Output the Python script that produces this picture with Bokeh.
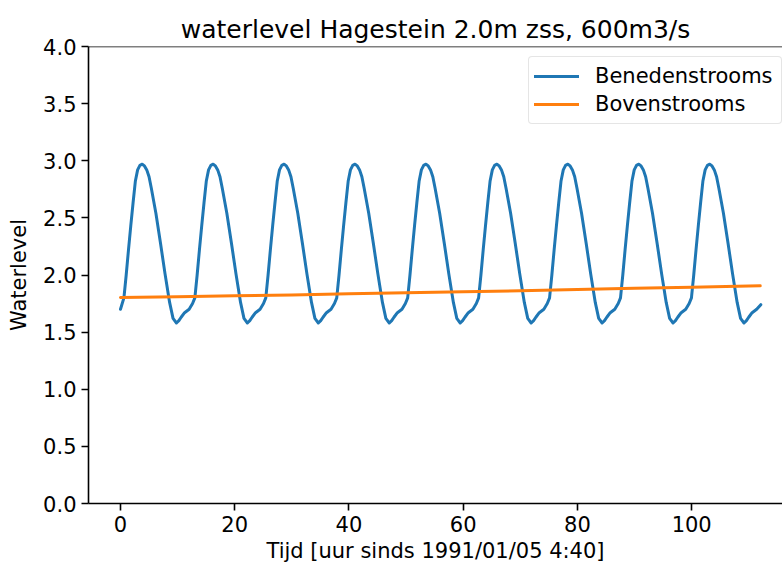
from bokeh.plotting import figure
from bokeh.models import (Range1d, FixedTicker, PrintfTickFormatter, Legend,
                          LegendItem, Span)
from bokeh.embed import file_html
from bokeh.resources import INLINE

# Water level downstream of the weir (tidal), hours since 1991/01/05 4:40
beneden_hours = [
    0.00, 0.60, 1.00, 1.40, 1.80, 2.20, 2.60, 3.00, 3.40, 3.80, 4.20, 4.60, 5.00, 5.40, 6.20, 7.00, 7.80, 8.60, 9.20, 9.80,
    10.22, 10.62, 11.22, 12.02, 12.62, 13.02, 13.42, 13.82, 14.22, 14.62, 15.02, 15.42, 15.82, 16.22, 16.62, 17.02, 17.42, 17.82, 18.62, 19.42, 20.22, 21.02, 21.62, 22.22,
    22.64, 23.04, 23.64, 24.44, 25.04, 25.44, 25.84, 26.24, 26.64, 27.04, 27.44, 27.84, 28.24, 28.64, 29.04, 29.44, 29.84, 30.24, 31.04, 31.84, 32.64, 33.44, 34.04, 34.64,
    35.06, 35.46, 36.06, 36.86, 37.46, 37.86, 38.26, 38.66, 39.06, 39.46, 39.86, 40.26, 40.66, 41.06, 41.46, 41.86, 42.26, 42.66, 43.46, 44.26, 45.06, 45.86, 46.46, 47.06,
    47.48, 47.88, 48.48, 49.28, 49.88, 50.28, 50.68, 51.08, 51.48, 51.88, 52.28, 52.68, 53.08, 53.48, 53.88, 54.28, 54.68, 55.08, 55.88, 56.68, 57.48, 58.28, 58.88, 59.48,
    59.90, 60.30, 60.90, 61.70, 62.30, 62.70, 63.10, 63.50, 63.90, 64.30, 64.70, 65.10, 65.50, 65.90, 66.30, 66.70, 67.10, 67.50, 68.30, 69.10, 69.90, 70.70, 71.30, 71.90,
    72.32, 72.72, 73.32, 74.12, 74.72, 75.12, 75.52, 75.92, 76.32, 76.72, 77.12, 77.52, 77.92, 78.32, 78.72, 79.12, 79.52, 79.92, 80.72, 81.52, 82.32, 83.12, 83.72, 84.32,
    84.74, 85.14, 85.74, 86.54, 87.14, 87.54, 87.94, 88.34, 88.74, 89.14, 89.54, 89.94, 90.34, 90.74, 91.14, 91.54, 91.94, 92.34, 93.14, 93.94, 94.74, 95.54, 96.14, 96.74,
    97.16, 97.56, 98.16, 98.96, 99.56, 99.96, 100.36, 100.76, 101.16, 101.56, 101.96, 102.36, 102.76, 103.16, 103.56, 103.96, 104.36, 104.76, 105.56, 106.36, 107.16, 107.96, 108.56, 109.16,
    109.58, 109.98, 110.58, 111.38, 112.10,
]
beneden_level = [
    1.70, 1.80, 2.00, 2.22, 2.43, 2.63, 2.82, 2.92, 2.96, 2.97, 2.955, 2.92, 2.86, 2.76, 2.54, 2.28, 2.01, 1.76, 1.62, 1.58,
    1.60, 1.63, 1.67, 1.70, 1.75, 1.80, 2.00, 2.22, 2.43, 2.63, 2.82, 2.92, 2.96, 2.97, 2.955, 2.92, 2.86, 2.76, 2.54, 2.28, 2.01, 1.76, 1.62, 1.58,
    1.60, 1.63, 1.67, 1.70, 1.75, 1.80, 2.00, 2.22, 2.43, 2.63, 2.82, 2.92, 2.96, 2.97, 2.955, 2.92, 2.86, 2.76, 2.54, 2.28, 2.01, 1.76, 1.62, 1.58,
    1.60, 1.63, 1.67, 1.70, 1.75, 1.80, 2.00, 2.22, 2.43, 2.63, 2.82, 2.92, 2.96, 2.97, 2.955, 2.92, 2.86, 2.76, 2.54, 2.28, 2.01, 1.76, 1.62, 1.58,
    1.60, 1.63, 1.67, 1.70, 1.75, 1.80, 2.00, 2.22, 2.43, 2.63, 2.82, 2.92, 2.96, 2.97, 2.955, 2.92, 2.86, 2.76, 2.54, 2.28, 2.01, 1.76, 1.62, 1.58,
    1.60, 1.63, 1.67, 1.70, 1.75, 1.80, 2.00, 2.22, 2.43, 2.63, 2.82, 2.92, 2.96, 2.97, 2.955, 2.92, 2.86, 2.76, 2.54, 2.28, 2.01, 1.76, 1.62, 1.58,
    1.60, 1.63, 1.67, 1.70, 1.75, 1.80, 2.00, 2.22, 2.43, 2.63, 2.82, 2.92, 2.96, 2.97, 2.955, 2.92, 2.86, 2.76, 2.54, 2.28, 2.01, 1.76, 1.62, 1.58,
    1.60, 1.63, 1.67, 1.70, 1.75, 1.80, 2.00, 2.22, 2.43, 2.63, 2.82, 2.92, 2.96, 2.97, 2.955, 2.92, 2.86, 2.76, 2.54, 2.28, 2.01, 1.76, 1.62, 1.58,
    1.60, 1.63, 1.67, 1.70, 1.75, 1.80, 2.00, 2.22, 2.43, 2.63, 2.82, 2.92, 2.96, 2.97, 2.955, 2.92, 2.86, 2.76, 2.54, 2.28, 2.01, 1.76, 1.62, 1.58,
    1.60, 1.63, 1.67, 1.70, 1.74,
]

# Water level upstream of the weir
boven_hours = [0, 10, 20, 30, 40, 50, 60, 70, 80, 90, 100, 112]
boven_level = [1.803, 1.810, 1.818, 1.826, 1.835, 1.844, 1.853, 1.862, 1.872, 1.883, 1.893, 1.905]

x_ticks = [0, 20, 40, 60, 80, 100]
y_ticks = [0.0, 0.5, 1.0, 1.5, 2.0, 2.5, 3.0, 3.5, 4.0]

FONT = "DejaVu Sans"

p = figure(width=782, height=567, output_backend="svg", toolbar_location=None,
           x_range=Range1d(-5.6, 115.9), y_range=Range1d(0, 4.0),
           min_border_left=88, min_border_right=0, min_border_top=46,
           min_border_bottom=64,
           title="waterlevel Hagestein 2.0m zss, 600m3/s")

p.title.align = "center"
p.title.text_font = FONT
p.title.text_font_size = "25px"
p.title.text_font_style = "normal"
p.title.text_color = "black"
p.title.standoff = 6
p.title.offset = 4

p.outline_line_color = None
p.grid.visible = False
p.background_fill_color = "white"
p.border_fill_color = "white"

p.xaxis.ticker = FixedTicker(ticks=x_ticks)
p.yaxis.ticker = FixedTicker(ticks=y_ticks)
p.xaxis.formatter = PrintfTickFormatter(format="%d")
p.yaxis.formatter = PrintfTickFormatter(format="%.1f")
p.xaxis.axis_label = "Tijd [uur sinds 1991/01/05 4:40]"
p.yaxis.axis_label = "Waterlevel"

for ax in (p.xaxis, p.yaxis):
    ax.axis_line_color = "black"
    ax.axis_line_width = 1.6
    ax.major_tick_line_color = "black"
    ax.major_tick_line_width = 1.6
    ax.major_tick_out = 7
    ax.major_tick_in = 0
    ax.minor_tick_out = 0
    ax.minor_tick_in = 0
    ax.major_label_text_font = FONT
    ax.major_label_text_font_size = "21px"
    ax.major_label_text_color = "black"
    ax.major_label_standoff = 5
    ax.axis_label_text_font = FONT
    ax.axis_label_text_font_size = "21px"
    ax.axis_label_text_font_style = "normal"
    ax.axis_label_text_color = "black"
p.xaxis.axis_label_standoff = 4
p.yaxis.axis_label_standoff = 9

# top spine
p.add_layout(Span(location=4.0, dimension="width", line_color="black",
                  line_width=1.6))

r_beneden = p.line(beneden_hours, beneden_level, line_color="#1f77b4",
                   line_width=3, line_join="round", line_cap="round")
r_boven = p.line(boven_hours, boven_level, line_color="#ff7f0e",
                 line_width=3, line_join="round", line_cap="round")

legend = Legend(items=[LegendItem(label="Benedenstrooms", renderers=[r_beneden]),
                       LegendItem(label="Bovenstrooms", renderers=[r_boven])],
                location=(440, 379), orientation="vertical",
                label_text_font=FONT, label_text_font_size="21px",
                label_text_color="black",
                label_height=28, glyph_height=28, glyph_width=45,
                label_standoff=16, label_width=181, padding=5, spacing=0,
                margin=0, border_line_color="#cccccc", border_line_width=1.6,
                border_radius=4,
                background_fill_color="white", background_fill_alpha=0.8)
p.add_layout(legend, "center")

open("out.html", "w").write(file_html(p, INLINE))
